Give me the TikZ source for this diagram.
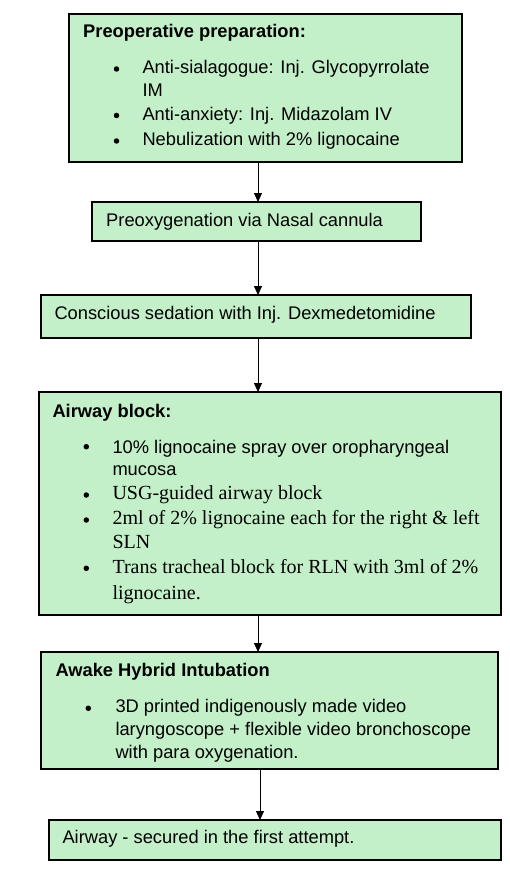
\documentclass[tikz,border=0pt]{standalone}
\usepackage{fontspec}
\setmainfont{Liberation Sans}
\newfontfamily\timesfont{Liberation Serif}
\usepackage{xcolor}
\usetikzlibrary{arrows.meta}
\definecolor{boxgreen}{RGB}{195,240,200}

\begin{document}
\begin{tikzpicture}[x=1pt, y=-1pt,
    box/.style={draw, line width=1.6pt, fill=boxgreen, anchor=north west, inner sep=0pt, outer sep=0pt},
    txt/.style={anchor=base west, inner sep=0pt, font=\fontsize{18.3}{22}\selectfont},
    head/.style={txt, font=\fontsize{18.3}{22}\selectfont\bfseries},
    serif/.style={anchor=base west, inner sep=0pt, font=\fontsize{20}{24}\timesfont},
    bul/.style={circle, fill=black, inner sep=0pt, minimum size=5.5pt},
    arr/.style={line width=0.8pt, -{Triangle[length=9pt, width=8pt]}}]
    \useasboundingbox (0,0) rectangle (509,869);

    % Boxes
    \node[box, minimum width=393pt, minimum height=148pt] (prep) at (69,14) {};
    \node[box, minimum width=329pt, minimum height=39pt] (preox) at (92,202) {};
    \node[box, minimum width=430pt, minimum height=43pt] (sed) at (41,295) {};
    \node[box, minimum width=462pt, minimum height=223pt] (block) at (39,392) {};
    \node[box, minimum width=457pt, minimum height=117pt] (awake) at (41,652) {};
    \node[box, minimum width=452pt, minimum height=40pt] (secure) at (49,820) {};

    % Preoperative preparation
    \node[head] (prephead) at (83,37.3) {Preoperative preparation:};
    \node[bul] (prepb1) at (116.5,69) {};
    \node[txt] (prept1) at (142.3,73.5) {Anti-sialagogue: Inj. Glycopyrrolate};
    \node[txt] (prept2) at (142.3,97) {IM};
    \node[bul] (prepb2) at (116.5,115.5) {};
    \node[txt] (prept3) at (142.3,120.3) {Anti-anxiety: Inj. Midazolam IV};
    \node[bul] (prepb3) at (116.5,141) {};
    \node[txt] (prept4) at (142.3,145.5) {Nebulization with 2\% lignocaine};

    % Preoxygenation and sedation
    \node[txt] (preoxt) at (106,226) {Preoxygenation via Nasal cannula};
    \node[txt] (sedt) at (54.3,319.5) {Conscious sedation with Inj. Dexmedetomidine};

    % Airway block
    \node[head] (blockhead) at (52.3,417) {Airway block:};
    \node[bul] (blockb1) at (86.3,446.7) {};
    \node[txt] (blockt1) at (112.3,453) {10\% lignocaine spray over oropharyngeal};
    \node[txt] (blockt2) at (112.3,475) {mucosa};
    \node[bul] (blockb2) at (86.3,495) {};
    \node[serif] (blockt3) at (112.3,499) {USG-guided airway block};
    \node[bul] (blockb3) at (86.3,520) {};
    \node[serif] (blockt4) at (112.3,524.3) {2ml of 2\% lignocaine each for the right \& left};
    \node[serif] (blockt5) at (112.3,548.3) {SLN};
    \node[bul] (blockb4) at (86.3,568.3) {};
    \node[serif] (blockt6) at (112.3,573.3) {Trans tracheal block for RLN with 3ml of 2\%};
    \node[serif] (blockt7) at (112.3,599) {lignocaine.};

    % Awake Hybrid Intubation
    \node[head] (awakehead) at (55.3,676.7) {Awake Hybrid Intubation};
    \node[bul] (awakeb1) at (88.3,708.3) {};
    \node[txt] (awaket1) at (115.3,712.7) {3D printed indigenously made video};
    \node[txt] (awaket2) at (115.3,735.3) {laryngoscope + flexible video bronchoscope};
    \node[txt] (awaket3) at (115.3,758) {with para oxygenation.};

    % Result
    \node[txt] (securet) at (62.3,843.3) {Airway - secured in the first attempt.};

    % Arrows
    \coordinate (ax) at (258,0);
    \coordinate (bx) at (260,0);
    \draw[arr] (prep.south -| ax) -- (preox.north -| ax);
    \draw[arr] (preox.south -| ax) -- (sed.north -| ax);
    \draw[arr] (sed.south -| ax) -- (block.north -| ax);
    \draw[arr] (block.south -| ax) -- (awake.north -| ax);
    \draw[arr] (awake.south -| bx) -- (secure.north -| bx);
\end{tikzpicture}
\end{document}
